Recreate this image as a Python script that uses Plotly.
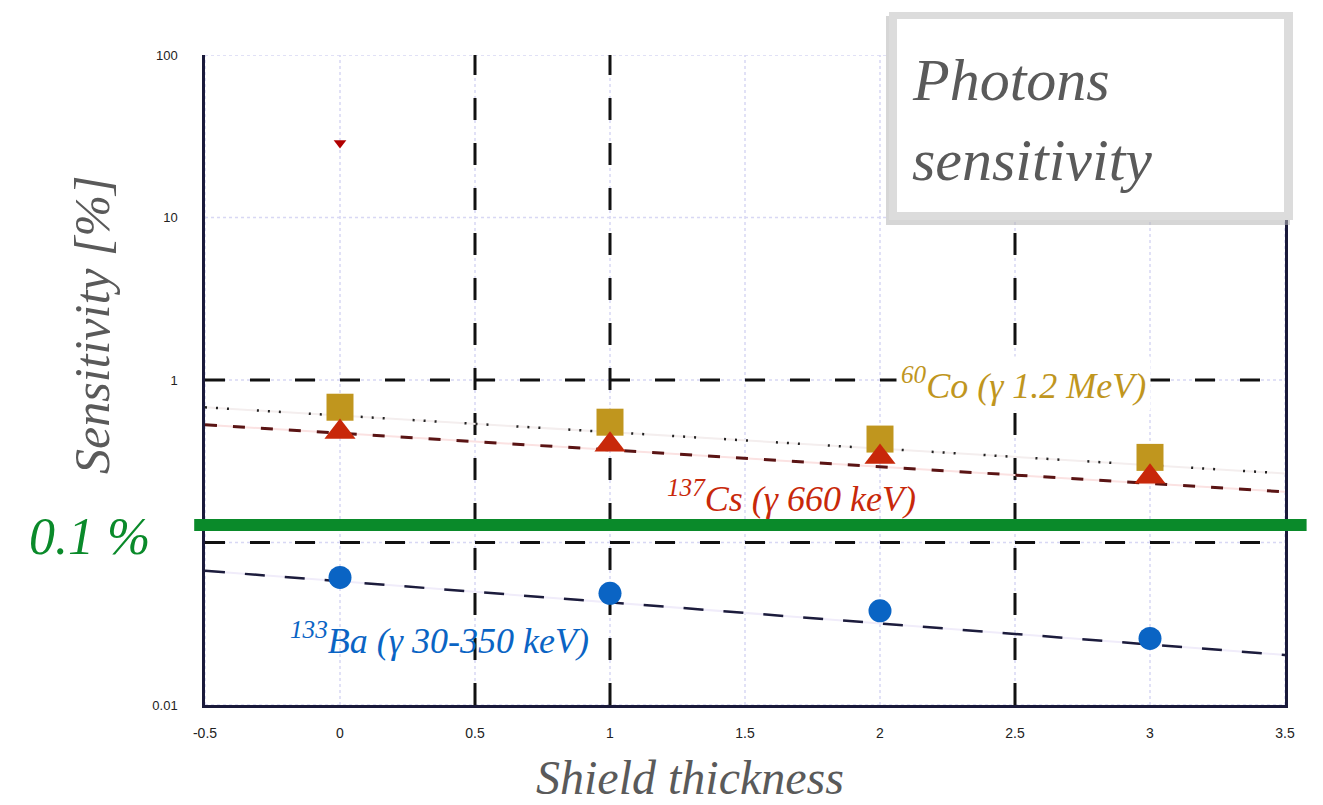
import plotly.graph_objects as go

# ---------------- data ----------------
thickness = [0, 1, 2, 3]
co60 = [0.68, 0.55, 0.433, 0.334]
cs137 = [0.478, 0.40, 0.336, 0.254]
ba133 = [0.061, 0.0487, 0.038, 0.0257]
outlier_x = [0]
outlier_y = [28.7]
fit_x = [-0.5, 3.5]
co60_fit = [0.679, 0.266]
cs137_fit = [0.53, 0.205]
ba133_fit = [0.067, 0.0203]
threshold = 0.128
dashed_x = [0.5, 1.0, 2.5]
dashed_y = [1, 0.1]
x_ticks = [-0.5, 0, 0.5, 1, 1.5, 2, 2.5, 3, 3.5]
x_tick_text = ["-0.5", "0", "0.5", "1", "1.5", "2", "2.5", "3", "3.5"]
y_ticks = [0.01, 0.1, 1, 10, 100]
y_tick_text = ["0.01", " ", "1", "10", "100"]

GOLD = "#C0961E"
RED = "#C8280A"
BLUE = "#0A64C4"
GREEN = "#0A8A2A"
GRAY = "#5a5a5a"
SERIF = "Liberation Serif"

fig = go.Figure()

# fit lines
fig.add_trace(go.Scatter(x=fit_x, y=co60_fit, mode="lines",
                         line=dict(color="#f4eeee", width=2), hoverinfo="skip"))
fig.add_trace(go.Scatter(x=fit_x, y=co60_fit, mode="lines",
                         line=dict(color="#222", width=2.5, dash="2px,9px,2px,9px,2px,28px"),
                         hoverinfo="skip"))
fig.add_trace(go.Scatter(x=fit_x, y=cs137_fit, mode="lines",
                         line=dict(color="#fbe2e2", width=2), hoverinfo="skip"))
fig.add_trace(go.Scatter(x=fit_x, y=cs137_fit, mode="lines",
                         line=dict(color="#5a1414", width=3, dash="12px,16px"),
                         hoverinfo="skip"))
fig.add_trace(go.Scatter(x=fit_x, y=ba133_fit, mode="lines",
                         line=dict(color="#f0ecfa", width=2), hoverinfo="skip"))
fig.add_trace(go.Scatter(x=fit_x, y=ba133_fit, mode="lines",
                         line=dict(color="#1c1c3c", width=2.5, dash="20px,20px"),
                         hoverinfo="skip"))

# markers
fig.add_trace(go.Scatter(x=thickness, y=co60, mode="markers",
                         marker=dict(symbol="square", size=27, color=GOLD,
                                     line=dict(width=0)), name="60Co"))
fig.add_trace(go.Scatter(x=thickness, y=cs137, mode="markers",
                         marker=dict(symbol="triangle-up", size=27, color=RED,
                                     line=dict(width=0)), name="137Cs"))
fig.add_trace(go.Scatter(x=thickness, y=ba133, mode="markers",
                         marker=dict(symbol="circle", size=23, color=BLUE,
                                     line=dict(width=0)), name="133Ba"))
fig.add_trace(go.Scatter(x=outlier_x, y=outlier_y, mode="markers",
                         marker=dict(symbol="triangle-down", size=11, color="#B00000",
                                     line=dict(width=0)), name="outlier"))

shapes = []
# faint dotted grid
for xv in x_ticks:
    shapes.append(dict(type="line", xref="x", yref="paper", x0=xv, x1=xv, y0=0, y1=1,
                       line=dict(color="#d8d8f4", width=1.5, dash="dot"), layer="below"))
for yv in y_ticks:
    shapes.append(dict(type="line", xref="paper", yref="y", x0=0, x1=1, y0=yv, y1=yv,
                       line=dict(color="#d8d8f4", width=1.5, dash="dot"), layer="below"))
# black dashed grid lines
for xv in dashed_x:
    shapes.append(dict(type="line", xref="x", yref="paper", x0=xv, x1=xv, y0=0, y1=1,
                       line=dict(color="#111", width=3, dash="22px,23px"), layer="below"))
for yv in dashed_y:
    shapes.append(dict(type="line", xref="paper", yref="y", x0=0, x1=1, y0=yv, y1=yv,
                       line=dict(color="#111", width=3, dash="20px,25px"), layer="below"))
# green threshold line
shapes.append(dict(type="line", xref="paper", yref="y", x0=-0.01, x1=1.02,
                   y0=threshold, y1=threshold,
                   line=dict(color=GREEN, width=12), layer="above"))

def px(x):
    return (x - 205) / 1080

def py(y):
    return (705 - y) / 650

# title box (shadow, frame, white)
shapes.append(dict(type="rect", xref="paper", yref="paper",
                   x0=px(886), x1=px(1290), y0=py(225), y1=py(16),
                   fillcolor="#b5b5b5", line=dict(width=0), opacity=0.55, layer="above"))
shapes.append(dict(type="rect", xref="paper", yref="paper",
                   x0=px(889), x1=px(1293), y0=py(220), y1=py(12),
                   fillcolor="#dcdcdc", line=dict(width=0), layer="above"))
shapes.append(dict(type="rect", xref="paper", yref="paper",
                   x0=px(897), x1=px(1284), y0=py(212), y1=py(19),
                   fillcolor="white", line=dict(width=0), layer="above"))

annotations = [
    dict(text="<i>Photons</i>", x=px(910), y=py(80), xanchor="left", yanchor="middle",
         font=dict(family=SERIF, size=60, color=GRAY)),
    dict(text="<i>sensitivity</i>", x=px(910), y=py(160), xanchor="left", yanchor="middle",
         font=dict(family=SERIF, size=60, color=GRAY)),
    dict(text="<i><sup>60</sup>Co (γ 1.2 MeV)</i>", x=px(896), y=py(383),
         xanchor="left", yanchor="middle", font=dict(family=SERIF, size=36, color=GOLD),
         bgcolor="white", borderpad=4),
    dict(text="<i><sup>137</sup>Cs (γ 660 keV)</i>", x=px(665), y=py(496),
         xanchor="left", yanchor="middle", font=dict(family=SERIF, size=36, color=RED)),
    dict(text="<i><sup>133</sup>Ba (γ 30-350 keV)</i>", x=px(288), y=py(638),
         xanchor="left", yanchor="middle", font=dict(family=SERIF, size=36, color=BLUE)),
    dict(text="<i>0.1 %</i>", x=px(152), y=py(536), xanchor="right", yanchor="middle",
         font=dict(family=SERIF, size=52, color=GREEN)),
    dict(text="<i>Shield thickness</i>", x=px(690), y=py(778), xanchor="center",
         yanchor="middle", font=dict(family=SERIF, size=48, color=GRAY)),
    dict(text="<i>Sensitivity [%]</i>", x=px(92), y=py(325), xanchor="center",
         yanchor="middle", textangle=-90, font=dict(family=SERIF, size=50, color=GRAY)),
]
for a in annotations:
    a.update(xref="paper", yref="paper", showarrow=False)

fig.update_layout(
    width=1323, height=805,
    margin=dict(l=205, r=38, t=55, b=100),
    paper_bgcolor="white", plot_bgcolor="white",
    showlegend=False,
    shapes=shapes, annotations=annotations,
    xaxis=dict(range=[-0.5, 3.5], tickvals=x_ticks, ticktext=x_tick_text,
               showgrid=False, zeroline=False, showline=True,
               linecolor="#1a1a3a", linewidth=2.5,
               mirror=False, ticks="", ticklabelstandoff=13,
               tickfont=dict(family="Liberation Sans", size=14, color="#222")),
    yaxis=dict(type="log", range=[-2, 2], tickvals=y_ticks, ticktext=y_tick_text,
               showgrid=False, zeroline=False, showline=True,
               linecolor="#1a1a3a", linewidth=2.5,
               mirror=True, ticks="", ticklabelstandoff=22,
               tickfont=dict(family="Liberation Sans", size=13, color="#222")),
)

fig.write_html("out.html", config={"displayModeBar": False},
               post_script="document.body.style.margin='0px';")
